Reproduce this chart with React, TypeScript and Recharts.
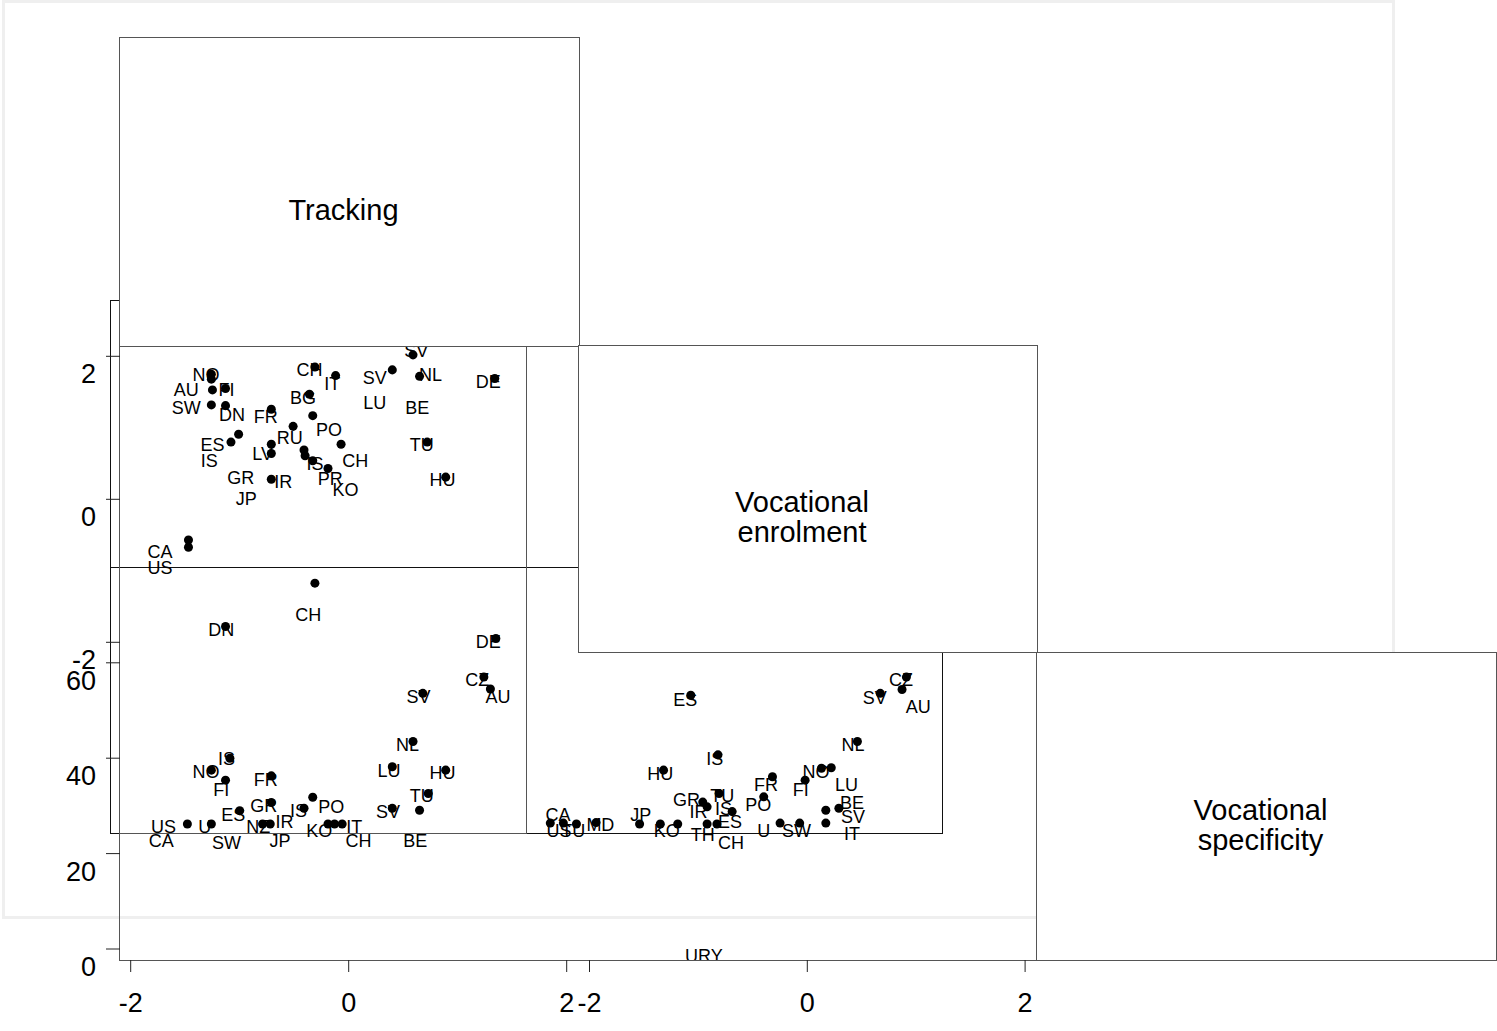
import { Scatter, ScatterChart, XAxis, YAxis, ZAxis } from "recharts";

type Dot = [number, number];
type Lbl = [string, number, number];

// tick labels
const colTicks = [-2, 0, 2];
const trackingTicks = [-2, 0, 2];
const specificityTicks = [0, 20, 40, 60];

// row 2 / col 1 (upper left scatter)
const dotsA: Dot[] = [
  [-1.26, 1.75], [-1.26, 1.68], [-1.25, 1.53], [-1.13, 1.55], [-1.26, 1.32], [-1.13, 1.31],
  [-1.01, 0.91], [-1.08, 0.8], [-0.71, 1.26], [-0.71, 0.77], [-0.71, 0.64], [-0.51, 1.02],
  [-0.36, 1.47], [-0.33, 1.17], [-0.31, 1.85], [-0.12, 1.73], [-0.41, 0.69], [-0.4, 0.61],
  [-0.33, 0.54], [-0.19, 0.43], [-0.07, 0.77], [-0.71, 0.28], [0.4, 1.81], [0.59, 2.02],
  [0.65, 1.72], [0.72, 0.8], [0.89, 0.31], [1.34, 1.69], [-1.47, -0.57], [-1.47, -0.67],
];
const labelsA: Lbl[] = [
  ["NO", -1.31, 1.75], ["AU", -1.49, 1.53], ["FI", -1.12, 1.54], ["SW", -1.49, 1.29],
  ["DN", -1.07, 1.18], ["FR", -0.76, 1.16], ["BG", -0.42, 1.43], ["CH", -0.36, 1.82],
  ["IT", -0.15, 1.62], ["PO", -0.18, 0.98], ["RU", -0.54, 0.86], ["ES", -1.25, 0.77],
  ["IS", -1.28, 0.54], ["LV", -0.79, 0.64], ["IS", -0.31, 0.5], ["CH", 0.06, 0.54],
  ["GR", -0.99, 0.31], ["IR", -0.6, 0.25], ["PR", -0.17, 0.29], ["KO", -0.03, 0.14],
  ["JP", -0.94, 0.01], ["SV", 0.24, 1.71], ["LU", 0.24, 1.36], ["SV", 0.62, 2.08],
  ["NL", 0.75, 1.75], ["BE", 0.63, 1.29], ["TU", 0.67, 0.77], ["HU", 0.86, 0.27],
  ["DE", 1.28, 1.65], ["CA", -1.73, -0.73], ["US", -1.73, -0.96],
];

// row 3 / col 1
const dotsB: Dot[] = [
  [-0.31, 76.7], [-1.13, 67.6], [1.35, 65.1], [1.24, 57.0], [1.3, 54.5], [0.68, 53.6],
  [0.59, 43.5], [-1.09, 40.0], [-1.26, 37.5], [-0.71, 36.3], [-1.13, 35.4], [0.4, 38.2],
  [0.89, 37.5], [0.73, 32.6], [-0.33, 31.8], [-0.71, 30.7], [-0.41, 29.5], [-1.0, 29.0],
  [0.65, 29.1], [0.4, 29.5], [-1.48, 26.2], [-1.26, 26.2], [-0.79, 26.2], [-0.72, 26.2],
  [-0.19, 26.2], [-0.13, 26.2], [-0.06, 26.2],
];
const labelsB: Lbl[] = [
  ["CH", -0.37, 70.2], ["DN", -1.17, 66.9], ["DE", 1.28, 64.4], ["CZ", 1.18, 56.4],
  ["AU", 1.37, 52.9], ["SV", 0.64, 53.0], ["NL", 0.54, 42.8], ["IS", -1.12, 40.0],
  ["NO", -1.31, 37.2], ["FR", -0.76, 35.6], ["FI", -1.17, 33.5], ["LU", 0.37, 37.5],
  ["HU", 0.86, 37.0], ["TU", 0.67, 32.1], ["PO", -0.16, 29.8], ["GR", -0.78, 30.0],
  ["IS", -0.46, 29.1], ["ES", -1.06, 28.1], ["SV", 0.36, 28.8], ["US", -1.7, 25.6],
  ["U", -1.32, 25.6], ["NZ", -0.83, 25.6], ["IR", -0.59, 26.7], ["KO", -0.27, 24.8],
  ["IT", 0.05, 25.6], ["CA", -1.72, 22.7], ["SW", -1.12, 22.3], ["JP", -0.63, 22.7],
  ["CH", 0.09, 22.7], ["BE", 0.61, 22.7],
];

// row 3 / col 2
const dotsC: Dot[] = [
  [0.91, 57.0], [0.87, 54.4], [0.67, 53.6], [-1.07, 53.2], [0.46, 43.5], [-0.82, 40.7],
  [-1.32, 37.5], [0.13, 37.9], [0.22, 38.0], [-0.32, 36.1], [-0.02, 35.4], [-0.81, 32.6],
  [-0.4, 31.9], [-0.96, 30.8], [-0.92, 29.8], [-0.69, 28.8], [0.17, 29.1], [0.29, 29.5],
  [-2.36, 26.4], [-2.24, 26.4], [-2.12, 26.2], [-1.94, 26.5], [-1.54, 26.2], [-1.35, 26.2],
  [-1.19, 26.2], [-0.92, 26.2], [-0.83, 26.2], [-0.25, 26.4], [-0.07, 26.4], [0.17, 26.4],
];
const labelsC: Lbl[] = [
  ["CZ", 0.86, 56.5], ["SV", 0.62, 52.8], ["AU", 1.02, 50.8], ["ES", -1.12, 52.3],
  ["NL", 0.42, 42.9], ["IS", -0.85, 40.0], ["HU", -1.35, 36.8], ["NO", 0.08, 37.2],
  ["FR", -0.38, 34.4], ["FI", -0.06, 33.5], ["LU", 0.36, 34.4], ["GR", -1.11, 31.4],
  ["TU", -0.78, 32.1], ["PO", -0.45, 30.2], ["BE", 0.41, 30.7], ["IR", -1.0, 28.8],
  ["IS", -0.77, 29.5], ["SV", 0.42, 27.7], ["ES", -0.71, 26.7], ["CA", -2.29, 28.1],
  ["US", -2.28, 24.8], ["TU", -2.15, 24.8], ["MD", -1.9, 26.0], ["JP", -1.53, 28.1],
  ["KO", -1.29, 24.8], ["TH", -0.96, 23.9], ["CH", -0.7, 22.3], ["U", -0.4, 24.8],
  ["SW", -0.1, 24.8], ["IT", 0.41, 24.3], ["URY", -0.95, -1.3],
];

const W = 1497;
const H = 1031;
const FONT = 'Arial, "Liberation Sans", Helvetica, sans-serif';

// shared plot area of the overlaid charts, and where 0 sits / px per unit
const PLOT = { left: 120, top: 0, right: W, bottom: 960 };
const COL1 = { zero: 348.7, unit: 109 };
const COL2 = { zero: 807.3, unit: 108.9 };
const ROW_A = { zero: 499.3, unit: 71.5 };
const ROW_B = { zero: 949, unit: 4.77 };

type Scale = { zero: number; unit: number };

const LabelShape = (p: any) => (
  <text x={p.cx} y={p.cy + 6.5} textAnchor="middle" fontSize={18} fontFamily={FONT} fill="#000">
    {p.payload.name}
  </text>
);

const XTick = (p: any) => (
  <text x={p.x} y={p.y + 40} textAnchor="middle" fontSize={27} fontFamily={FONT} fill="#000">
    {p.payload.value}
  </text>
);

const YTick = (p: any) => (
  <text x={p.x} y={p.y + 27} textAnchor="end" fontSize={27} fontFamily={FONT} fill="#000">
    {p.payload.value}
  </text>
);

type PanelProps = {
  dots: Dot[];
  labels: Lbl[];
  xs: Scale;
  ys: Scale;
  xTicks?: number[];
  yTicks?: number[];
};

function Panel({ dots, labels, xs, ys, xTicks, yTicks }: PanelProps) {
  const xDomain = [(PLOT.left - xs.zero) / xs.unit, (PLOT.right - xs.zero) / xs.unit];
  const yDomain = [(ys.zero - PLOT.bottom) / ys.unit, (ys.zero - PLOT.top) / ys.unit];
  const dotData = dots.map(([x, y]) => ({ x, y }));
  const labelData = labels.map(([name, x, y]) => ({ name, x, y }));
  return (
    <div style={{ position: "absolute", left: 0, top: 0 }}>
      <ScatterChart
        width={W}
        height={H}
        margin={{ top: 0, right: 0, left: yTicks ? 0 : PLOT.left, bottom: xTicks ? 0 : H - PLOT.bottom }}
      >
        <XAxis
          type="number"
          dataKey="x"
          domain={xDomain}
          allowDataOverflow
          hide={!xTicks}
          ticks={xTicks}
          interval={0}
          height={H - PLOT.bottom}
          axisLine={false}
          tickSize={12}
          tickMargin={0}
          tickLine={{ stroke: "#222" }}
          tick={XTick}
        />
        <YAxis
          type="number"
          dataKey="y"
          domain={yDomain}
          allowDataOverflow
          hide={!yTicks}
          ticks={yTicks}
          interval={0}
          width={PLOT.left}
          axisLine={false}
          tickSize={14}
          tickMargin={10}
          tickLine={{ stroke: "#222" }}
          tick={YTick}
        />
        <ZAxis range={[78, 78]} />
        <Scatter data={dotData} fill="#000" isAnimationActive={false} />
        <Scatter data={labelData} shape={LabelShape} isAnimationActive={false} />
      </ScatterChart>
    </div>
  );
}

function Frame({ l, t, r, b, line, fill }: { l: number; t: number; r: number; b: number; line: string; fill?: string }) {
  return (
    <div
      style={{
        position: "absolute",
        left: l,
        top: t,
        width: r - l,
        height: b - t,
        border: line,
        boxSizing: "border-box",
        background: fill ?? "transparent",
      }}
    />
  );
}

function Diagonal({ l, t, r, b, lines }: { l: number; t: number; r: number; b: number; lines: string[] }) {
  return (
    <div
      style={{
        position: "absolute",
        left: l,
        top: t,
        width: r - l,
        height: b - t,
        border: "1.5px solid #555",
        boxSizing: "border-box",
        background: "#fff",
        display: "flex",
        flexDirection: "column",
        alignItems: "center",
        justifyContent: "center",
        fontFamily: FONT,
        fontSize: 29,
        lineHeight: "30px",
        color: "#000",
        textAlign: "center",
      }}
    >
      <div style={{ transform: "translate(-6px, 18px)" }}>
        {lines.map((s, i) => (
          <div key={i}>{s}</div>
        ))}
      </div>
    </div>
  );
}

export default function App() {
  const thin = "1px solid #111";
  const box = "1.5px solid #555";
  return (
    <div style={{ position: "absolute", left: 0, top: 0, width: W, height: H, background: "#fff", overflow: "hidden" }}>
      <Frame l={2} t={0} r={1395} b={919} line="3px solid #efefef" />
      <Frame l={119} t={345} r={1038} b={961} line={box} />
      <Frame l={110} t={300} r={580} b={568} line={thin} />
      <Frame l={110} t={567} r={943} b={834} line={thin} />
      <Frame l={119} t={345} r={527} b={834} line={box} />

      <Panel dots={dotsA} labels={labelsA} xs={COL1} ys={ROW_A} xTicks={colTicks} yTicks={trackingTicks} />
      <Panel dots={dotsB} labels={labelsB} xs={COL1} ys={ROW_B} yTicks={specificityTicks} />
      <Panel dots={dotsC} labels={labelsC} xs={COL2} ys={ROW_B} xTicks={colTicks} />

      <Diagonal l={119} t={37} r={580} b={347} lines={["Tracking"]} />
      <Diagonal l={578} t={345} r={1038} b={653} lines={["Vocational", "enrolment"]} />
      <Diagonal l={1036} t={652} r={1497} b={961} lines={["Vocational", "specificity"]} />
    </div>
  );
}
